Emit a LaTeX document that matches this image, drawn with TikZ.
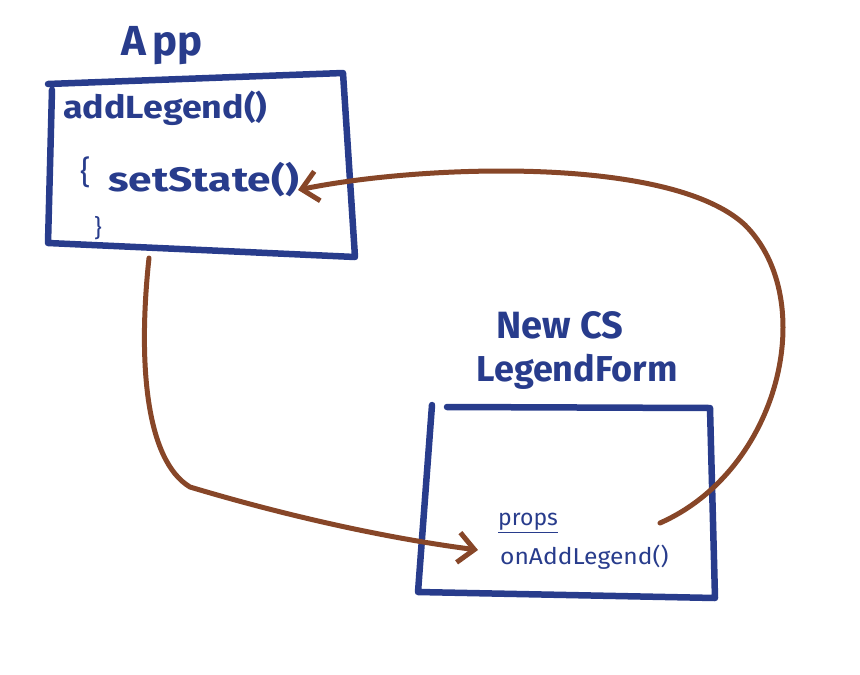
\documentclass[tikz,border=0pt]{standalone}
\usepackage{fontspec}
\usepackage{graphicx}
\setmainfont{Fira Sans}
\usetikzlibrary{arrows.meta}
\definecolor{penblue}{RGB}{40,60,140}
\definecolor{penbrown}{RGB}{135,70,40}
\tikzset{
  boxline/.style={draw=penblue,line width=6.5pt,line cap=round,line join=round},
  bluetext/.style={text=penblue,inner sep=0pt,anchor=west},
  wire/.style={draw=penbrown,line width=5pt,line cap=round,-{Straight Barb[length=16pt,width=30pt,line width=5pt]}}
}
\begin{document}
\begin{tikzpicture}[x=1pt,y=-1pt]
\useasboundingbox (0,0) rectangle (860,675);
% App box
\coordinate (a1) at (48,84);
\coordinate (a2) at (343,73);
\coordinate (a3) at (355,257);
\coordinate (a4) at (48,243);
\draw[boxline] (a1) -- (a2) -- (a3) -- (a4) -- (52,90);
\node[text=penblue,font=\fontsize{42}{46}\selectfont\bfseries] (apptitle) at (162,46) {A\,pp};
\node[bluetext,font=\fontsize{32}{36}\selectfont\bfseries] (addlegend) at (63,108) {\scalebox{1.12}[1]{addLegend()}};
\node[bluetext,font=\fontsize{32}{36}\selectfont] (lbrace) at (80,172) {\{};
\node[bluetext,font=\fontsize{34}{38}\selectfont\bfseries] (setstate) at (108,180) {\scalebox{1.25}[1]{setState()}};
\node[bluetext,font=\fontsize{24}{28}\selectfont] (rbrace) at (94,228) {\}};
% LegendForm box
\coordinate (b1) at (447,407);
\coordinate (b2) at (710,408);
\coordinate (b3) at (715,598);
\coordinate (b4) at (418,592);
\draw[boxline] (b1) -- (b2) -- (b3) -- (b4) -- (432,405);
\node[text=penblue,font=\fontsize{38}{42}\selectfont\bfseries] (t1) at (560,325) {New CS};
\node[text=penblue,font=\fontsize{36}{40}\selectfont\bfseries] (t2) at (577,372) {LegendForm};
\node[bluetext,font=\fontsize{23}{26}\selectfont] (props) at (498,523) {\underline{props}};
\node[bluetext,font=\fontsize{23}{26}\selectfont] (onadd) at (500,557) {\scalebox{1.07}[1]{onAddLegend()}};
% connectors
\coordinate (s1) at (149,258);
\coordinate (e1) at (478,550);
\draw[wire] (s1) .. controls (138,360) and (145,460) .. (190,487)
  .. controls (300,520) and (400,540) .. (e1);
\coordinate (s2) at (660,523);
\coordinate (e2) at (298,190);
\draw[wire] (s2) .. controls (780,470) and (820,300) .. (745,225)
  .. controls (670,155) and (420,165) .. (e2);
\end{tikzpicture}
\end{document}
